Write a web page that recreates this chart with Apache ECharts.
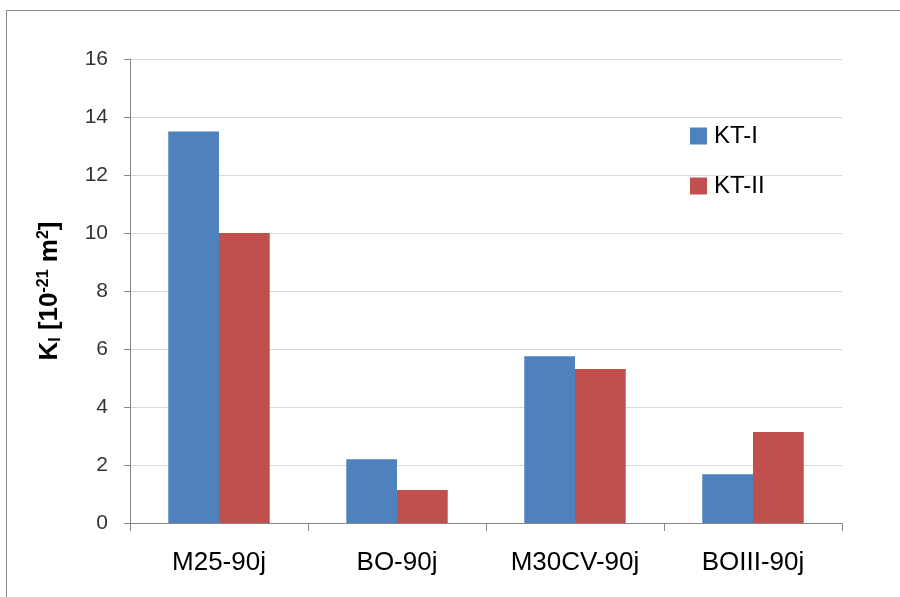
<!DOCTYPE html>
<html><head><meta charset="utf-8">
<script src="https://cdn.jsdelivr.net/npm/echarts@6/dist/echarts.min.js"></script>
<style>html,body{margin:0;padding:0;background:#fff;overflow:hidden;width:900px;height:597px}#ftop{position:absolute;left:6px;top:10px;width:894px;height:1px;background:#8c8c8c}#fleft{position:absolute;left:6px;top:10px;width:1px;height:587px;background:#8c8c8c}#c{position:absolute;left:0;top:0;width:900px;height:597px}</style>
</head><body><div id="ftop"></div><div id="fleft"></div><div id="c"></div>
<script>
const categories = ['M25-90j', 'BO-90j', 'M30CV-90j', 'BOIII-90j'];
const kt1 = [13.5, 2.2, 5.75, 1.68];
const kt2 = [10.0, 1.14, 5.31, 3.14];
const seriesNames = ['KT-I', 'KT-II'];
const colors = ['#4f81bd', '#c0504d'];
const font = '"Liberation Sans", Arial, sans-serif';
const chart = echarts.init(document.getElementById('c'));
chart.setOption({
  animation: false,
  grid: {left: 130, right: 58, top: 59, bottom: 74},
  legend: {
    orient: 'vertical', left: 685, top: 119, itemWidth: 17, itemHeight: 17, itemGap: 26,
    data: seriesNames, icon: 'rect',
    textStyle: {fontFamily: font, fontSize: 24, color: '#000', padding: [0,0,0,2]}
  },
  xAxis: {
    type: 'category', data: categories,
    axisLine: {lineStyle: {color: '#868686'}},
    axisTick: {show: true, length: 8, lineStyle: {color: '#868686'}},
    axisLabel: {fontFamily: font, fontSize: 26, color: '#000', margin: 27}
  },
  yAxis: {
    type: 'value', min: 0, max: 16, interval: 2,
    axisLine: {show: true, lineStyle: {color: '#868686'}},
    axisTick: {show: true, length: 6, lineStyle: {color: '#868686'}},
    splitLine: {lineStyle: {color: '#d9d9d9'}},
    axisLabel: {fontFamily: font, fontSize: 21, color: '#333', margin: 22},
    name: '{m|K}{s|I}{m| [10}{p|-21}{m| m}{p|2}{m|]}',
    nameLocation: 'middle', nameGap: 66, nameRotate: 90,
    nameTextStyle: {
      rich: {
        m: {fontFamily: font, fontSize: 26, fontWeight: 'bold', color: '#000'},
        s: {fontFamily: font, fontSize: 16, fontWeight: 'bold', color: '#000', verticalAlign: 'bottom', padding: [10,0,0,0]},
        p: {fontFamily: font, fontSize: 16, fontWeight: 'bold', color: '#000', verticalAlign: 'top', padding: [0,0,12,0]}
      }
    }
  },
  series: [
    {name: seriesNames[0], type: 'bar', data: kt1, itemStyle: {color: colors[0]}, barGap: '0%', barCategoryGap: '43%'},
    {name: seriesNames[1], type: 'bar', data: kt2, itemStyle: {color: colors[1]}, barGap: '0%', barCategoryGap: '43%'}
  ]
});
</script></body></html>
